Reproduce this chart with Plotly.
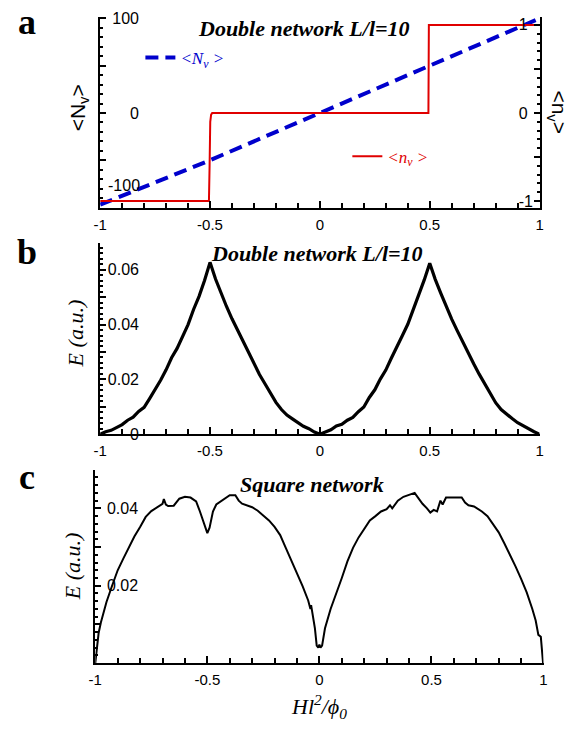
import plotly.graph_objects as go

# ---------------- data ----------------
# panel a
H_a_N = [-1.0, -0.5, 0.0, 0.5, 1.0]
N_v = [-97, -50, 0, 50, 100]
H_a_n = [-1.0, -0.505, -0.502, -0.499, -0.495, -0.49, 0.494, 0.496, 1.0]
n_v = [-1, -1, -0.6, -0.1, -0.02, 0, 0, 1, 1]

# panel b
H_b = [-1.000, -0.975, -0.950, -0.925, -0.900, -0.875, -0.850, -0.825, -0.800, -0.775,
       -0.750, -0.725, -0.700, -0.675, -0.650, -0.625, -0.600, -0.575, -0.550, -0.525,
       -0.500, -0.475, -0.450, -0.425, -0.400, -0.375, -0.350, -0.325, -0.300, -0.275,
       -0.250, -0.225, -0.200, -0.175, -0.150, -0.125, -0.100, -0.075, -0.050, -0.025,
       0.000, 0.025, 0.050, 0.075, 0.100, 0.125, 0.150, 0.175, 0.200, 0.225,
       0.250, 0.275, 0.300, 0.325, 0.350, 0.375, 0.400, 0.425, 0.450, 0.475,
       0.500, 0.525, 0.550, 0.575, 0.600, 0.625, 0.650, 0.675, 0.700, 0.725,
       0.750, 0.775, 0.800, 0.825, 0.850, 0.875, 0.900, 0.925, 0.950, 0.975, 1.000]
E_b = [0.0000, 0.0009, 0.0014, 0.0026, 0.0035, 0.0051, 0.0062, 0.0083, 0.0098, 0.0130,
       0.0163, 0.0197, 0.0235, 0.0279, 0.0313, 0.0359, 0.0400, 0.0455, 0.0503, 0.0561,
       0.0627, 0.0566, 0.0514, 0.0466, 0.0421, 0.0380, 0.0337, 0.0297, 0.0258, 0.0218,
       0.0184, 0.0149, 0.0116, 0.0090, 0.0070, 0.0056, 0.0041, 0.0029, 0.0020, 0.0008,
       0.0000, 0.0008, 0.0016, 0.0030, 0.0036, 0.0051, 0.0061, 0.0082, 0.0099, 0.0134,
       0.0162, 0.0201, 0.0234, 0.0277, 0.0316, 0.0359, 0.0401, 0.0454, 0.0504, 0.0563,
       0.0624, 0.0565, 0.0515, 0.0465, 0.0420, 0.0378, 0.0336, 0.0296, 0.0257, 0.0219,
       0.0183, 0.0150, 0.0115, 0.0090, 0.0072, 0.0057, 0.0042, 0.0030, 0.0019, 0.0009, 0.0000]

# panel c
H_c = [-1.000, -0.990, -0.985, -0.975, -0.956, -0.950, -0.925, -0.900, -0.875, -0.850,
       -0.825, -0.800, -0.775, -0.750, -0.725, -0.700, -0.694, -0.685, -0.675, -0.650,
       -0.625, -0.600, -0.575, -0.550, -0.533, -0.520, -0.510, -0.500, -0.490, -0.475,
       -0.460, -0.440, -0.420, -0.400, -0.375, -0.360, -0.345, -0.325, -0.300, -0.275,
       -0.250, -0.225, -0.200, -0.175, -0.150, -0.125, -0.100, -0.075, -0.050, -0.040,
       -0.037, -0.033, -0.020, -0.012, -0.005, 0.000, 0.005, 0.012, 0.025, 0.050,
       0.075, 0.100, 0.125, 0.150, 0.175, 0.200, 0.225, 0.250, 0.275, 0.300,
       0.315, 0.325, 0.350, 0.375, 0.400, 0.425, 0.440, 0.460, 0.480, 0.495,
       0.510, 0.525, 0.540, 0.550, 0.565, 0.600, 0.635, 0.650, 0.665, 0.690,
       0.725, 0.750, 0.775, 0.800, 0.825, 0.850, 0.875, 0.900, 0.925, 0.950,
       0.965, 0.977, 0.988, 0.998]
E_c = [0.0000, 0.0055, 0.0078, 0.0105, 0.0146, 0.0158, 0.0200, 0.0240, 0.0270, 0.0300,
       0.0328, 0.0352, 0.0378, 0.0393, 0.0402, 0.0412, 0.0424, 0.0410, 0.0406, 0.0407,
       0.0425, 0.0430, 0.0428, 0.0418, 0.0392, 0.0370, 0.0348, 0.0336, 0.0350, 0.0392,
       0.0410, 0.0418, 0.0428, 0.0434, 0.0434, 0.0420, 0.0412, 0.0408, 0.0403, 0.0394,
       0.0382, 0.0369, 0.0352, 0.0331, 0.0298, 0.0266, 0.0233, 0.0199, 0.0162, 0.0140,
       0.0150, 0.0135, 0.0090, 0.0045, 0.0040, 0.0048, 0.0040, 0.0045, 0.0090, 0.0140,
       0.0183, 0.0220, 0.0263, 0.0298, 0.0325, 0.0347, 0.0369, 0.0380, 0.0392, 0.0398,
       0.0408, 0.0400, 0.0420, 0.0430, 0.0434, 0.0440, 0.0428, 0.0412, 0.0400, 0.0389,
       0.0396, 0.0392, 0.0420, 0.0410, 0.0428, 0.0428, 0.0428, 0.0415, 0.0408, 0.0405,
       0.0392, 0.0380, 0.0360, 0.0338, 0.0310, 0.0282, 0.0250, 0.0218, 0.0183, 0.0140,
       0.0110, 0.0073, 0.0068, 0.0000]

x_tickvals = [-1, -0.5, 0, 0.5, 1]
x_ticktext = ["-1", "-0.5", "0", "0.5", "1"]
ya_left_vals = [-100, -50, 0, 50, 100]
ya_left_text = ["", "", "0", "", "100"]
ya_left_low_label = "-100"
ya_right_vals = [-1, -0.5, 0, 0.5, 1]
ya_right_text = ["-1", "", "0", "", "1"]
yb_vals = [0, 0.01, 0.02, 0.03, 0.04, 0.05, 0.06]
yb_text = ["0", "", "0.02", "", "0.04", "", "0.06"]
yc_vals = [0.01, 0.02, 0.03, 0.04, 0.05]
yc_text = ["", "0.02", "", "0.04", ""]

# ---------------- layout helpers ----------------
W, Hh = 574, 735
def fx(p): return p / W
def fy(p): return 1 - p / Hh

SANS = "Liberation Sans, Arial, sans-serif"
SERIF = "Liberation Serif, Times New Roman, serif"
TICKFONT_X = dict(family=SANS, size=15, color="black")
TICKFONT_Y = dict(family=SANS, size=16, color="black")

fig = go.Figure()

fig.add_trace(go.Scatter(x=H_a_N, y=N_v, mode="lines", xaxis="x", yaxis="y",
                         line=dict(color="#0000cc", width=4, dash="13px,7px"),
                         name="<i>&lt;N<sub>v</sub> &gt;</i>", legend="legend"))
fig.add_trace(go.Scatter(x=H_a_n, y=n_v, mode="lines", xaxis="x", yaxis="y2",
                         line=dict(color="#e00000", width=2),
                         name="<i>&lt;n<sub>v</sub> &gt;</i>", legend="legend2"))
fig.add_trace(go.Scatter(x=H_b, y=E_b, mode="lines", xaxis="x2", yaxis="y3",
                         line=dict(color="black", width=3.2), showlegend=False))
fig.add_trace(go.Scatter(x=H_c, y=E_c, mode="lines", xaxis="x3", yaxis="y4",
                         line=dict(color="black", width=2), showlegend=False))

def xax(domain, anchor):
    return dict(domain=domain, anchor=anchor, range=[-1, 1], tickmode="array",
                tickvals=x_tickvals, ticktext=x_ticktext, ticks="inside", ticklen=7,
                tickwidth=2, tickcolor="black", showline=True, linewidth=2,
                linecolor="black", showgrid=False, zeroline=False,
                tickfont=TICKFONT_X, ticklabelstandoff=2,
                minor=dict(dtick=0.1, tick0=0, ticks="inside", ticklen=5,
                           tickwidth=2, tickcolor="black", showgrid=False))

def yax(domain, anchor, rng, vals, text, mdt, standoff, side="left", overlay=None):
    d = dict(domain=domain, anchor=anchor, range=rng, tickmode="array",
             tickvals=vals, ticktext=text, ticks="inside", ticklen=6, tickwidth=2,
             tickcolor="black", showline=True, linewidth=2, linecolor="black",
             showgrid=False, zeroline=False, tickfont=TICKFONT_Y, side=side,
             ticklabelstandoff=standoff,
             minor=dict(dtick=mdt, tick0=0, ticks="inside", ticklen=3,
                        tickwidth=2, tickcolor="black", showgrid=False))
    if overlay:
        d["overlaying"] = overlay
    return d

dom_ab = [fx(95), fx(543)]
dom_c = [fx(90), fx(547)]

fig.update_layout(
    width=W, height=Hh, margin=dict(l=0, r=0, t=0, b=0),
    paper_bgcolor="white", plot_bgcolor="white",
    xaxis=xax(dom_ab, "y"),
    yaxis=yax([fy(205), fy(10)], "x", [-100, 101.7], ya_left_vals, ya_left_text, 10, -44),
    yaxis2=yax([fy(205), fy(10)], "x", [-1.074, 1.092], ya_right_vals, ya_right_text,
               0.1, -26, side="right", overlay="y"),
    xaxis2=xax(dom_ab, "y3"),
    yaxis3=yax([fy(436.7), fy(241.7)], "x2", [0, 0.0696], yb_vals, yb_text, 0.002, -44),
    xaxis3=xax(dom_c, "y4"),
    yaxis4=yax([fy(670.7), fy(473)], "x3", [0, 0.05], yc_vals, yc_text, 0.002, -48),
    legend=dict(x=fx(136), y=fy(52), xanchor="left", yanchor="middle",
                bgcolor="rgba(0,0,0,0)", borderwidth=0, itemwidth=30,
                font=dict(family=SERIF, size=17, color="#0000cc")),
    legend2=dict(x=fx(347), y=fy(153), xanchor="left", yanchor="middle",
                 bgcolor="rgba(0,0,0,0)", borderwidth=0, itemwidth=30,
                 font=dict(family=SERIF, size=17, color="#e00000")),
)

ann = []
def add(text, x, y, size, family=SERIF, angle=0, color="black", xanchor="center"):
    ann.append(dict(text=text, x=fx(x), y=fy(y), xref="paper", yref="paper",
                    xanchor=xanchor, yanchor="middle", showarrow=False,
                    textangle=angle, font=dict(family=family, size=size, color=color)))

add("<b>a</b>", 20, 15, 36)
add("<b>b</b>", 20, 250, 36)
add("<b>c</b>", 20, 480, 36)
add("<b><i>Double network L/l=10</i></b>", 303, 22, 22)
add("<b><i>Double network L/l=10</i></b>", 316, 252, 22)
add("<b><i>Square network</i></b>", 311, 488, 22)
add(ya_left_low_label, 138, 182, 16, family=SANS, xanchor="right")
add("&lt;N<sub>v</sub>&gt;", 73, 103, 21, family=SANS, angle=-90)
add("&lt;n<sub>v</sub>&gt;", 562, 108, 21, family=SANS, angle=90)
add("<i>E (a.u.)</i>", 70, 334, 22, angle=-90)
add("<i>E (a.u.)</i>", 67, 572, 22, angle=-90)
add("<i>Hl<sup>2</sup>/\u03d5<sub>0</sub></i>", 318, 715, 22)
fig.update_layout(annotations=ann)

fig.write_html("out.html")
